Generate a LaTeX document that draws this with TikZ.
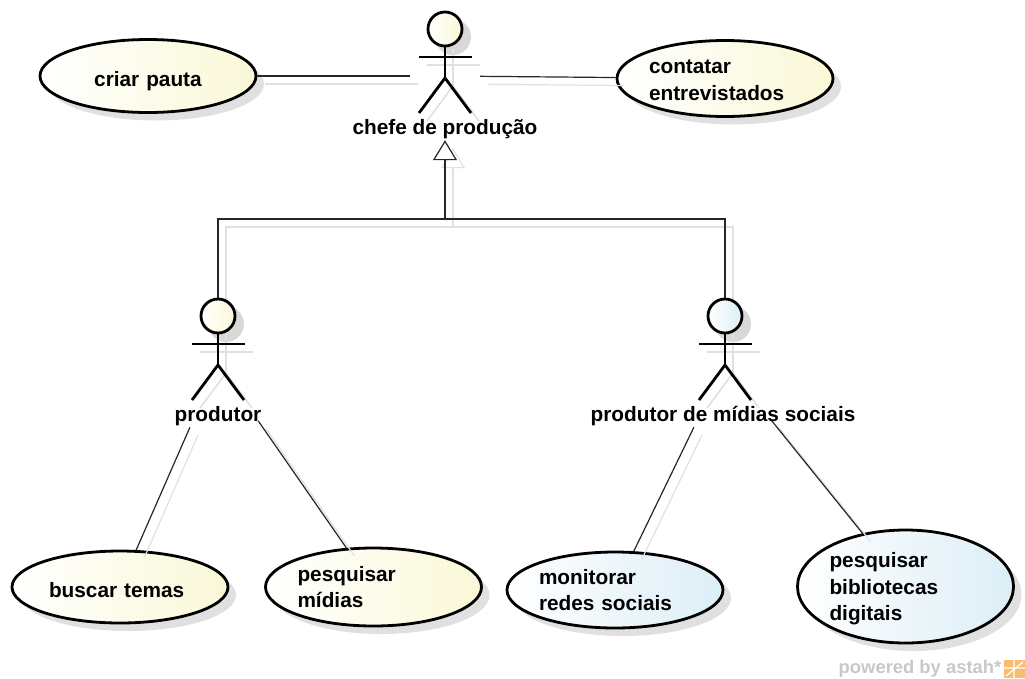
\documentclass[tikz,border=0pt]{standalone}
\usepackage{fontspec}
\setmainfont{Liberation Sans}
\usetikzlibrary{shapes.geometric,shadows,arrows.meta}
\definecolor{creamfill}{RGB}{250,248,215}
\definecolor{bluefill}{RGB}{220,238,246}
\definecolor{shadowgray}{RGB}{224,224,224}
\definecolor{headshade}{RGB}{216,216,216}
\definecolor{astahgray}{RGB}{200,200,200}
\definecolor{astahorange}{RGB}{246,190,110}
\begin{document}
\begin{tikzpicture}[x=1pt, y=-1pt,
    softshadow/.style={drop shadow={shadow xshift=8pt, shadow yshift=-8pt, fill=shadowgray, opacity=1}},
    usecase/.style={draw, ellipse, line width=2.8pt, inner sep=0pt, text width=152pt, minimum width=216pt, minimum height=76pt, left color=white, font=\bfseries\fontsize{20.8}{26.5}\selectfont, softshadow},
    yellowcase/.style={usecase, right color=creamfill},
    bluecase/.style={usecase, right color=bluefill},
    actorbox/.style={rectangle, inner sep=0pt, minimum height=128pt},
    actorhead/.style={draw, circle, line width=2.8pt, inner sep=0pt, minimum size=34pt, left color=white},
    actorname/.style={font=\bfseries\fontsize{20.8}{26.5}\selectfont, inner sep=0pt},
    assoc/.style={draw=black!85, line width=1.2pt},
    shadowline/.style={draw=shadowgray, line width=1.2pt, transform canvas={xshift=8pt, yshift=-8pt}},
    gentip/.style={-{Triangle[open, length=20pt, width=24pt, fill=white]}}]
    \useasboundingbox (0,0) rectangle (1025,678);

    \node[yellowcase, align=center, minimum height=73pt, text height=25pt] (criar) at (148,76) {criar pauta};
    \node[yellowcase, align=left, text height=17pt] (contatar) at (725,78.5) {contatar\\entrevistados};
    \node[yellowcase, align=left, minimum height=72pt, text height=21pt] (buscar) at (120,587) {\hspace*{5pt}buscar temas};
    \node[yellowcase, align=left, minimum height=78pt] (midias) at (373.5,587) {pesquisar\\mídias};
    \node[bluecase, align=left] (monitorar) at (615,590) {monitorar\\redes sociais};
    \node[bluecase, align=left, minimum height=113pt, text height=20pt] (bibliotecas) at (905.5,586.5) {pesquisar\\bibliotecas\\digitais};

    \node[actorbox, minimum width=70pt] (chefe) at (445,76) {};
    \node[actorbox, minimum width=80pt] (produtor) at (218,363) {};
    \node[actorbox, minimum width=90pt] (midiasocial) at (725,363) {};
    \coordinate (juncao) at (445,219);

    % sombras
    \draw[shadowline] (criar) -- (chefe);
    \draw[shadowline] (chefe) -- (contatar);
    \draw[shadowline] (produtor) -- (buscar);
    \draw[shadowline] (produtor) -- (midias);
    \draw[shadowline] (midiasocial) -- (monitorar);
    \draw[shadowline] (midiasocial) -- (bibliotecas);
    \draw[shadowline] (midiasocial.north) |- (juncao);
    \draw[shadowline, gentip] (produtor.north) |- (juncao) -- (chefe.south);

    \foreach \nm in {chefe, produtor, midiasocial} {
        \fill[headshade] ([shift={(8pt,39pt)}]\nm.center) circle (18pt);
        \begin{scope}[transform canvas={xshift=8pt, yshift=-8pt}]
            \draw[shadowgray, line width=2.8pt] ([shift={(-26pt,19pt)}]\nm.center) -- ([shift={(27pt,19pt)}]\nm.center);
            \draw[shadowgray, line width=1.6pt] ([yshift=47pt]\nm.center) -- ([yshift=-2pt]\nm.center);
            \draw[shadowgray, line width=1.6pt] ([shift={(-26pt,-37pt)}]\nm.center) -- ([yshift=-2pt]\nm.center) -- ([shift={(26pt,-37pt)}]\nm.center);
        \end{scope}
    }

    \draw[assoc] (criar) -- (chefe);
    \draw[assoc] (chefe) -- (contatar);
    \draw[assoc] (produtor) -- (buscar);
    \draw[assoc] (produtor) -- (midias);
    \draw[assoc] (midiasocial) -- (monitorar);
    \draw[assoc] (midiasocial) -- (bibliotecas);
    \draw[assoc] (midiasocial.north) |- (juncao);
    \draw[assoc, gentip] (produtor.north) |- (juncao) -- (chefe.south);

    \foreach \nm/\col in {chefe/creamfill, produtor/creamfill, midiasocial/bluefill} {
        \node[actorhead, right color=\col] (\nm head) at ([yshift=47pt]\nm.center) {};
        \draw[line width=2.8pt] (\nm head) -- ([yshift=-2pt]\nm.center);
        \draw[line width=2.8pt] ([shift={(-26pt,19pt)}]\nm.center) -- ([shift={(27pt,19pt)}]\nm.center);
        \draw[line width=2.8pt, line join=round] ([shift={(-26pt,-37pt)}]\nm.center) -- ([yshift=-2pt]\nm.center) -- ([shift={(26pt,-37pt)}]\nm.center);
    }

    \node[actorname] (chefenome) at (445,129) {chefe de produção};
    \node[actorname] (produtornome) at (218,416) {produtor};
    \node[actorname] (midianome) at (723,416) {produtor de mídias sociais};

    \node[font=\bfseries\fontsize{18.4}{18}\selectfont, text=astahgray, inner sep=0pt] (astah) at (920,669) {powered by astah*};
    \fill[astahorange] (1004,660) rectangle (1025,678);
    \draw[white, line width=1.2pt] (1004,668) -- (1025,668) (1014,660) -- (1014,678) (1006,676) -- (1023,662);
\end{tikzpicture}
\end{document}
